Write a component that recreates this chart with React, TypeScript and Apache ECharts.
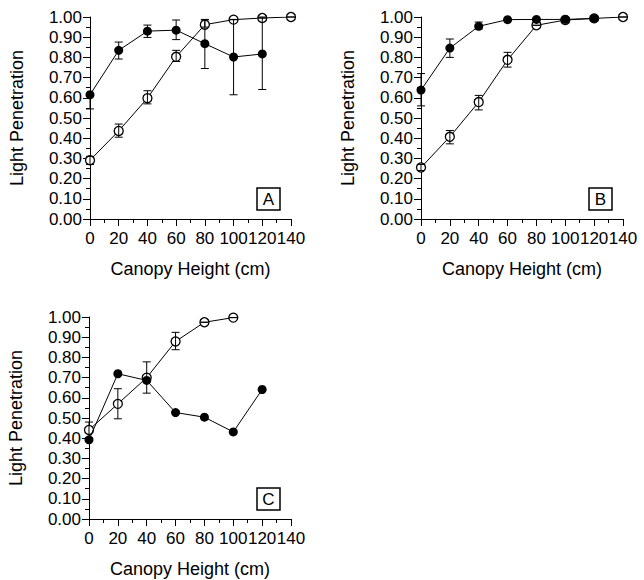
import React, { useEffect, useRef } from "react";
import * as echarts from "echarts";

const heights = [0, 20, 40, 60, 80, 100, 120, 140];
const yTicks = [0, 0.1, 0.2, 0.3, 0.4, 0.5, 0.6, 0.7, 0.8, 0.9, 1.0];
const xTicks = [0, 20, 40, 60, 80, 100, 120, 140];
const panelLabels = ["A", "B", "C"];
const yTitle = "Light Penetration";
const xTitle = "Canopy Height (cm)";

// Panel A
const aFilled = [0.615, 0.835, 0.93, 0.935, 0.868, 0.802, 0.817];
const aFilledLow = [0.545, 0.792, 0.899, 0.888, 0.745, 0.615, 0.641];
const aFilledHigh = [0.615, 0.876, 0.96, 0.985, 0.988, 0.988, 1.0];
const aOpen = [0.291, 0.436, 0.598, 0.803, 0.962, 0.987, 0.995, 1.0];
const aOpenLow = [0.27, 0.405, 0.57, 0.78, 0.95, 0.987, 0.995, 1.0];
const aOpenHigh = [0.31, 0.47, 0.635, 0.835, 0.985, 0.987, 0.995, 1.0];

// Panel B
const bFilled = [0.638, 0.846, 0.954, 0.987, 0.988, 0.988, 0.993];
const bFilledLow = [0.56, 0.8, 0.94, null, null, null, null];
const bFilledHigh = [0.72, 0.891, 0.975, null, null, null, null];
const bOpen = [0.255, 0.407, 0.579, 0.788, 0.959, 0.985, 0.993, 1.0];
const bOpenLow = [0.24, 0.372, 0.54, 0.752, 0.959, 0.985, 0.993, 1.0];
const bOpenHigh = [0.27, 0.438, 0.612, 0.825, 0.959, 0.985, 0.993, 1.0];

// Panel C
const cFilled = [0.392, 0.719, 0.686, 0.527, 0.504, 0.431, 0.641];
const cOpen = [0.441, 0.57, 0.7, 0.879, 0.974, 0.997];
const cOpenLow = [0.4, 0.496, 0.623, 0.838, 0.974, 0.997];
const cOpenHigh = [0.48, 0.645, 0.778, 0.924, 0.974, 0.997];

const FONT = "'Liberation Sans', Arial, Helvetica, sans-serif";

const grids = [
  { left: 90, top: 17, width: 201, height: 202 },
  { left: 421, top: 17, width: 202, height: 202 },
  { left: 89, top: 317, width: 202, height: 202 },
];

function pts(vals: number[]) {
  return vals.map((v, i) => [heights[i], v]);
}
function errPts(vals: number[], lo: (number | null)[], hi: (number | null)[]) {
  const out: number[][] = [];
  vals.forEach((_, i) => {
    if (lo[i] != null && hi[i] != null) out.push([heights[i], lo[i] as number, hi[i] as number]);
  });
  return out;
}

const renderErr = (params: any, api: any) => {
  const x = api.value(0);
  const p1 = api.coord([x, api.value(1)]);
  const p2 = api.coord([x, api.value(2)]);
  const w = 4;
  const st = { stroke: "#000", lineWidth: 1 };
  return {
    type: "group",
    children: [
      { type: "line", shape: { x1: p1[0], y1: p1[1], x2: p2[0], y2: p2[1] }, style: st },
      { type: "line", shape: { x1: p1[0] - w, y1: p1[1], x2: p1[0] + w, y2: p1[1] }, style: st },
      { type: "line", shape: { x1: p2[0] - w, y1: p2[1], x2: p2[0] + w, y2: p2[1] }, style: st },
    ],
  };
};

export default function App() {
  const ref = useRef<HTMLDivElement>(null);
  useEffect(() => {
    if (!ref.current) return;
    const chart = echarts.init(ref.current, null, { renderer: "svg" });

    const xAxes = grids.map((_, i) => ({
      type: "value",
      gridIndex: i,
      min: 0,
      max: 140,
      interval: 20,
      axisLine: { show: true, lineStyle: { color: "#000", width: 1 } },
      axisTick: { show: true, inside: false, length: 7, lineStyle: { color: "#000", width: 1 } },
      minorTick: { show: true, splitNumber: 2, length: 4, lineStyle: { color: "#000", width: 1 } },
      splitLine: { show: false },
      axisLabel: {
        show: true,
        margin: 11,
        fontSize: 17,
        fontFamily: FONT,
        color: "#000",
        showMaxLabel: true,
        showMinLabel: true,
        formatter: (v: number) => (xTicks.includes(v) ? String(v) : ""),
      },
    }));
    const yAxes = grids.map((_, i) => ({
      type: "value",
      gridIndex: i,
      min: 0,
      max: 1,
      interval: 0.1,
      axisLine: { show: true, onZero: false, lineStyle: { color: "#000", width: 1 } },
      axisTick: { show: true, inside: false, length: 7, lineStyle: { color: "#000", width: 1 } },
      minorTick: { show: true, splitNumber: 2, length: 4, lineStyle: { color: "#000", width: 1 } },
      splitLine: { show: false },
      axisLabel: {
        show: true,
        margin: 8,
        fontSize: 17,
        fontFamily: FONT,
        color: "#000",
        showMaxLabel: true,
        formatter: (v: number) => {
          const t = yTicks.find((k) => Math.abs(k - v) < 1e-6);
          return t != null ? t.toFixed(2) : "";
        },
      },
    }));

    const panels = [
      { filled: aFilled, fLo: aFilledLow, fHi: aFilledHigh, open: aOpen, oLo: aOpenLow, oHi: aOpenHigh },
      { filled: bFilled, fLo: bFilledLow, fHi: bFilledHigh, open: bOpen, oLo: bOpenLow, oHi: bOpenHigh },
      { filled: cFilled, fLo: [] as (number | null)[], fHi: [] as (number | null)[], open: cOpen, oLo: cOpenLow, oHi: cOpenHigh },
    ];

    const series: any[] = [];
    panels.forEach((p, i) => {
      series.push({
        type: "line",
        xAxisIndex: i,
        yAxisIndex: i,
        data: pts(p.open),
        z: 2,
        symbol: "circle",
        symbolSize: 9,
        lineStyle: { color: "#000", width: 1 },
        itemStyle: { color: "#fff", borderColor: "#000", borderWidth: 1.3 },
        silent: true,
      });
      series.push({
        type: "custom",
        xAxisIndex: i,
        yAxisIndex: i,
        data: errPts(p.open, p.oLo, p.oHi),
        encode: { x: 0, y: [1, 2] },
        renderItem: renderErr,
        z: 3,
        silent: true,
      });
      series.push({
        type: "custom",
        xAxisIndex: i,
        yAxisIndex: i,
        data: errPts(p.filled, p.fLo, p.fHi),
        encode: { x: 0, y: [1, 2] },
        renderItem: renderErr,
        z: 3,
        silent: true,
      });
      series.push({
        type: "line",
        xAxisIndex: i,
        yAxisIndex: i,
        data: pts(p.filled),
        z: 4,
        symbol: "circle",
        symbolSize: 9,
        lineStyle: { color: "#000", width: 1 },
        itemStyle: { color: "#000", borderColor: "#000", borderWidth: 0 },
        silent: true,
      });
    });

    const graphic: any[] = [];
    grids.forEach((g, i) => {
      graphic.push({
        type: "text",
        x: g.left - 73,
        y: g.top + g.height / 2,
        rotation: Math.PI / 2,
        style: {
          text: yTitle,
          font: `18px ${FONT}`,
          fill: "#000",
          align: "center",
          verticalAlign: "middle",
        },
      });
      graphic.push({
        type: "text",
        x: g.left + g.width / 2,
        y: g.top + g.height + 50,
        style: {
          text: xTitle,
          font: `18px ${FONT}`,
          fill: "#000",
          align: "center",
          verticalAlign: "middle",
        },
      });
      const bx = g.left + g.width - 34;
      const by = g.top + g.height - 31;
      graphic.push({
        type: "rect",
        shape: { x: bx, y: by, width: 23, height: 22 },
        style: { fill: "#fff", stroke: "#000", lineWidth: 1.5 },
      });
      graphic.push({
        type: "text",
        x: bx + 11.5,
        y: by + 11.5,
        style: {
          text: panelLabels[i],
          font: `17px ${FONT}`,
          fill: "#000",
          align: "center",
          verticalAlign: "middle",
        },
      });
    });

    chart.setOption({
      animation: false,
      backgroundColor: "#fff",
      grid: grids.map((g) => ({ ...g, containLabel: false })),
      xAxis: xAxes,
      yAxis: yAxes,
      series,
      graphic,
    });
    return () => chart.dispose();
  }, []);
  return (
    <div
      ref={ref}
      style={{ position: "fixed", left: 0, top: 0, width: 644, height: 580, background: "#fff" }}
    />
  );
}
